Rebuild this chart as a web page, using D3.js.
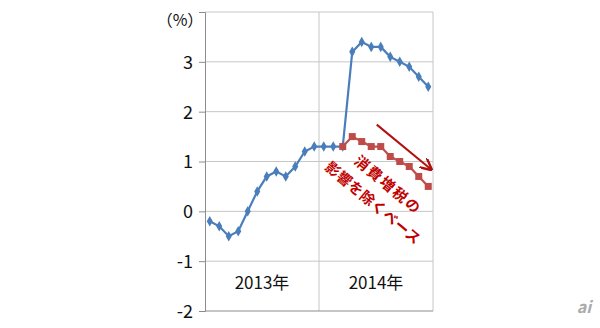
<!DOCTYPE html>
<html>
<head>
<meta charset="utf-8">
<script src="https://cdn.jsdelivr.net/npm/d3@7"></script>
<style>
  body { margin: 0; background: #fff; }
  text { font-family: "Noto Sans CJK JP", "Noto Sans", sans-serif; }
</style>
</head>
<body>
<script>
// monthly series, 2013-01 .. 2014-12
var months = ["2013-01","2013-02","2013-03","2013-04","2013-05","2013-06","2013-07","2013-08","2013-09","2013-10","2013-11","2013-12",
              "2014-01","2014-02","2014-03","2014-04","2014-05","2014-06","2014-07","2014-08","2014-09","2014-10","2014-11","2014-12"]
var years = ["2013年","2014年"]
var cpi = [-0.2,-0.3,-0.5,-0.4,0.0,0.4,0.7,0.8,0.7,0.9,1.2,1.3,
           1.3,1.3,1.3,3.2,3.4,3.3,3.3,3.1,3.0,2.9,2.7,2.5]
// excluding the consumption tax hike
var cpiExTax = [null,null,null,null,null,null,null,null,null,null,null,null,
                null,null,1.3,1.5,1.4,1.3,1.3,1.1,1.0,0.9,0.7,0.5]
var yTicks = [-2,-1,0,1,2,3]
var noteLines = ["消費増税の","影響を除くベース"]

var width = 600
var height = 328

var svg = d3.select("body")
    .append("svg")
    .attr("width", width)
    .attr("height", height)

// plot box (note: "top" is reserved on window, so use p-prefixed names)
var pLeft = 205, pRight = 433, pTop = 12, pBottom = 311

var x = d3.scaleBand().domain(months).range([pLeft, pRight])
var xYear = d3.scaleBand().domain(years).range([pLeft, pRight])
var y = d3.scaleLinear().domain([-2, 4]).range([pBottom, pTop])

var cx = function(m){ return x(m) + x.bandwidth() / 2 }

// horizontal grid
svg.selectAll(".hgrid")
    .data(d3.range(-1, 5))
    .enter()
    .append("line")
    .attr("x1", pLeft).attr("x2", pRight)
    .attr("y1", function(d){ return y(d) }).attr("y2", function(d){ return y(d) })
    .attr("stroke", "#c6c6c6")
    .attr("stroke-width", 1)

// vertical grid at year boundaries
svg.selectAll(".vgrid")
    .data(years)
    .enter()
    .append("line")
    .attr("x1", function(d){ return xYear(d) + xYear.bandwidth() })
    .attr("x2", function(d){ return xYear(d) + xYear.bandwidth() })
    .attr("y1", pTop).attr("y2", pBottom)
    .attr("stroke", "#c6c6c6")

// y axis
var yAxis = svg.append("g")
    .attr("transform", "translate(" + pLeft + ",0)")
    .call(d3.axisLeft(y).tickValues(yTicks).tickSize(6).tickPadding(6).tickFormat(d3.format("d")))
yAxis.select(".domain").attr("stroke", "#8c8c8c")
yAxis.selectAll(".tick line").attr("stroke", "#8c8c8c")
yAxis.selectAll(".tick text")
    .attr("font-size", 18)
    .attr("fill", "#111")
    .attr("dy", "0.36em")
    .text(function(d){ return d < 0 ? "-" + Math.abs(d) : d })

// x axis line
svg.append("line")
    .attr("x1", pLeft).attr("x2", pRight)
    .attr("y1", pBottom).attr("y2", pBottom)
    .attr("stroke", "#8c8c8c")

// year labels
svg.selectAll(".year")
    .data(years)
    .enter()
    .append("text")
    .attr("x", function(d){ return xYear(d) + xYear.bandwidth() / 2 })
    .attr("y", y(-1.56))
    .attr("text-anchor", "middle")
    .attr("font-size", 17)
    .attr("fill", "#111")
    .text(function(d){ return d })

// unit
svg.append("text")
    .attr("x", 180).attr("y", 26)
    .attr("text-anchor", "middle")
    .attr("font-size", 16)
    .attr("fill", "#111")
    .text("（%）")

// blue line
var line = d3.line()
    .defined(function(d){ return d.v != null })
    .x(function(d){ return cx(d.m) })
    .y(function(d){ return y(d.v) })

var blue = months.map(function(m, i){ return {m: m, v: cpi[i]} })
var red = months.map(function(m, i){ return {m: m, v: cpiExTax[i]} })

svg.append("path")
    .attr("d", line(blue))
    .attr("fill", "none")
    .attr("stroke", "#4a7ebb")
    .attr("stroke-width", 2.2)

svg.selectAll(".dia")
    .data(blue)
    .enter()
    .append("path")
    .attr("d", d3.symbol().type(d3.symbolDiamond).size(32))
    .attr("transform", function(d){ return "translate(" + cx(d.m) + "," + y(d.v) + ")" })
    .attr("fill", "#4a7ebb")

// red line
svg.append("path")
    .attr("d", line(red))
    .attr("fill", "none")
    .attr("stroke", "#c0504d")
    .attr("stroke-width", 2.2)

svg.selectAll(".sq")
    .data(red.filter(function(d){ return d.v != null }))
    .enter()
    .append("rect")
    .attr("x", function(d){ return cx(d.m) - 3.5 })
    .attr("y", function(d){ return y(d.v) - 3.5 })
    .attr("width", 7).attr("height", 7)
    .attr("fill", "#be4b48")

// arrow
svg.append("defs").append("marker")
    .attr("id", "arrow")
    .attr("viewBox", "0 0 10 10")
    .attr("refX", 9).attr("refY", 5)
    .attr("markerWidth", 6).attr("markerHeight", 6)
    .attr("orient", "auto")
    .append("path")
    .attr("d", "M0,0 L10,5 L0,10")
    .attr("fill", "none")
    .attr("stroke", "#b01010")
    .attr("stroke-width", 2)

svg.append("line")
    .attr("x1", cx("2014-07") - 4).attr("y1", y(1.74))
    .attr("x2", cx("2014-12") + 3).attr("y2", y(0.84))
    .attr("stroke", "#b01010")
    .attr("stroke-width", 2)
    .attr("marker-end", "url(#arrow)")

// rotated note
svg.selectAll(".note")
    .data(noteLines)
    .enter()
    .append("text")
    .attr("transform", function(d, i){
        var px = i == 0 ? 388 : 373
        var py = i == 0 ? 185 : 203
        return "translate(" + px + "," + py + ") rotate(40)"
    })
    .attr("text-anchor", "middle")
    .attr("dy", "0.35em")
    .attr("font-size", 14.5)
    .attr("font-weight", "bold")
    .attr("letter-spacing", function(d, i){ return i == 0 ? 2 : 0.5 })
    .attr("fill", "#c00000")
    .text(function(d){ return d })

// watermark
svg.append("text")
    .attr("x", 584).attr("y", 313)
    .attr("text-anchor", "middle")
    .attr("font-size", 16)
    .attr("font-style", "italic")
    .attr("font-weight", "bold")
    .attr("fill", "#aaa")
    .text("ai")
</script>
</body>
</html>
